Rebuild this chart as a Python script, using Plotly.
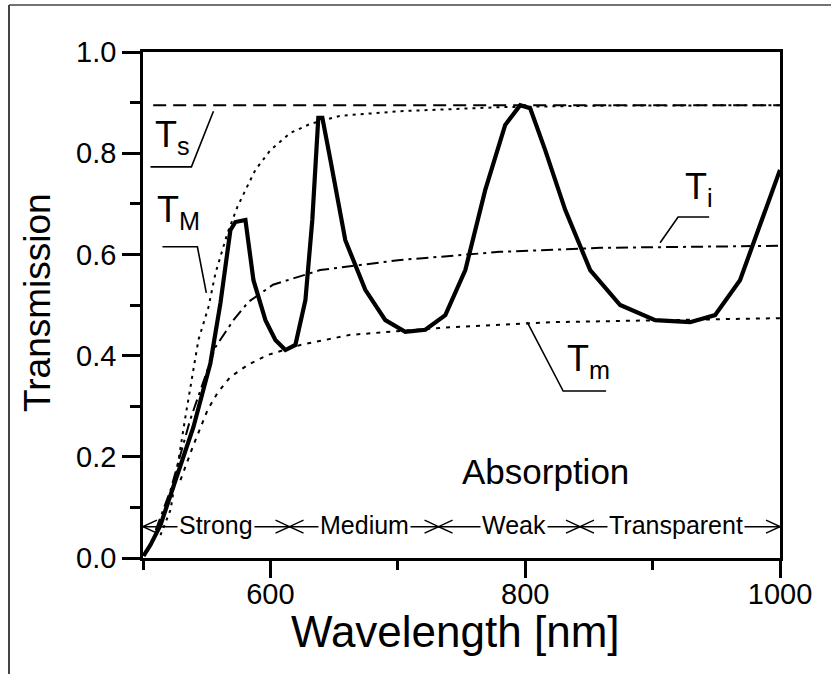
import plotly.graph_objects as go

# ---------------- data ----------------
wl_T = [500.4, 505.9, 513.7, 525.5, 539.6, 552.9, 560.8, 568.6, 572.5, 580.4, 586.7, 596.1,
        603.9, 611.8, 619.6, 627.5, 632.9, 637.6, 640.8, 647.1, 658.8, 674.5, 690.2, 705.9,
        721.6, 737.3, 753.0, 768.6, 784.3, 796.1, 803.9, 815.7, 831.4, 851.0, 874.5, 902.0,
        929.4, 949.0, 968.6, 984.3, 1000.0]
T = [0.004, 0.026, 0.065, 0.154, 0.259, 0.385, 0.504, 0.648, 0.664, 0.668, 0.549, 0.470,
     0.431, 0.411, 0.421, 0.510, 0.668, 0.870, 0.870, 0.787, 0.628, 0.530, 0.470, 0.447,
     0.451, 0.480, 0.569, 0.727, 0.856, 0.895, 0.889, 0.806, 0.688, 0.569, 0.500, 0.470,
     0.466, 0.480, 0.549, 0.658, 0.767]

wl_TM = [513.7, 521.6, 533.3, 538.8, 543.5, 551.4, 556.9, 566.3, 574.1, 580.4, 588.2, 600.0,
         615.7, 631.4, 654.9, 702.0, 780.4, 858.8, 1000.0]
TM = [0.045, 0.095, 0.279, 0.358, 0.431, 0.496, 0.563, 0.642, 0.694, 0.727, 0.767, 0.806,
      0.840, 0.858, 0.874, 0.883, 0.891, 0.894, 0.895]

wl_Tm = [529.4, 539.6, 550.6, 558.4, 568.6, 582.0, 597.6, 623.5, 662.7, 741.0, 819.6, 898.0, 1000.0]
Tm = [0.154, 0.223, 0.292, 0.326, 0.358, 0.381, 0.401, 0.421, 0.441, 0.456, 0.466, 0.470, 0.474]

wl_Ti = [510.0, 521.6, 537.0, 556.9, 571.0, 582.7, 602.0, 639.0, 702.0, 780.0, 859.0, 1000.0]
Ti = [0.055, 0.134, 0.273, 0.417, 0.470, 0.506, 0.540, 0.569, 0.589, 0.605, 0.613, 0.617]

wl_Ts = [508.0, 1000.0]
Ts = [0.895, 0.895]

regions = ["Strong", "Medium", "Weak", "Transparent"]
region_edges = [500, 615, 732, 843, 1000]
region_centers = [557, 674, 791, 918]

x_ticks = [600, 800, 1000]
y_ticks = [0.0, 0.2, 0.4, 0.6, 0.8, 1.0]

# ---------------- figure ----------------
FONT = "Liberation Sans, Arial, sans-serif"
fig = go.Figure()

fig.add_trace(go.Scatter(x=wl_Ts, y=Ts, mode="lines",
                         line=dict(color="black", width=2, dash="13px,7px")))
fig.add_trace(go.Scatter(x=wl_TM, y=TM, mode="lines",
                         line=dict(color="black", width=2, dash="3px,5px")))
fig.add_trace(go.Scatter(x=wl_Tm, y=Tm, mode="lines",
                         line=dict(color="black", width=2, dash="4px,6px")))
fig.add_trace(go.Scatter(x=wl_Ti, y=Ti, mode="lines",
                         line=dict(color="black", width=2, dash="12px,5px,3px,5px")))
fig.add_trace(go.Scatter(x=wl_T, y=T, mode="lines",
                         line=dict(color="black", width=4.2)))

shapes = []
annotations = []

# absorption-range arrows (open chevron heads), in data coordinates
ARROW_Y = 0.062
HEAD_DX = 11.0     # nm  (~14 px)
HEAD_DY = 0.0128   # transmission (~6.5 px)
arrow_line = dict(color="black", width=1.5)
shapes.append(dict(type="line", xref="x", yref="y", x0=region_edges[0], x1=region_edges[-1],
                   y0=ARROW_Y, y1=ARROW_Y, line=arrow_line))
for i in range(len(regions)):
    a, b = region_edges[i], region_edges[i + 1]
    for tip, sgn in [(a, 1), (b, -1)]:
        d = (f"M {tip + sgn * HEAD_DX},{ARROW_Y + HEAD_DY} L {tip},{ARROW_Y} "
             f"L {tip + sgn * HEAD_DX},{ARROW_Y - HEAD_DY}")
        shapes.append(dict(type="path", path=d, xref="x", yref="y", line=arrow_line))
for i, name in enumerate(regions):
    annotations.append(dict(
        x=region_centers[i], y=ARROW_Y, xref="x", yref="y", text=name,
        showarrow=False, bgcolor="white", borderpad=1,
        font=dict(family=FONT, size=25, color="black"),
        xanchor="center", yanchor="middle", yshift=2))

annotations.append(dict(x=815.7, y=0.170, xref="x", yref="y", text="Absorption",
                        showarrow=False, font=dict(family=FONT, size=35, color="black")))

label_font = dict(family=FONT, size=36, color="black")
for txt, lx, ly in [("T<sub>s</sub>", 508.2, 0.843), ("T<sub>M</sub>", 509.8, 0.695),
                    ("T<sub>i</sub>", 923.9, 0.742), ("T<sub>m</sub>", 831.4, 0.402)]:
    annotations.append(dict(x=lx, y=ly, xref="x", yref="y", text=txt, showarrow=False,
                            font=label_font, xanchor="left", yanchor="middle", yshift=-6))

# axis titles
annotations.append(dict(x=(37 - 143) / 637, y=(558 - 303) / 506, xref="paper", yref="paper",
                        text="Transmission", textangle=-90, showarrow=False,
                        xanchor="center", yanchor="middle",
                        font=dict(family=FONT, size=37, color="black")))
annotations.append(dict(x=(455 - 143) / 637, y=(558 - 631) / 506, xref="paper", yref="paper",
                        text="Wavelength [nm]", showarrow=False,
                        xanchor="center", yanchor="middle",
                        font=dict(family=FONT, size=44, color="black")))

for path in [[(505.9, 0.773), (538.0, 0.773), (555.3, 0.883)],
             [(515.3, 0.615), (542.7, 0.615), (549.7, 0.524)],
             [(944.4, 0.674), (920.0, 0.674), (905.9, 0.623)],
             [(801.6, 0.466), (829.8, 0.330), (863.5, 0.330)]]:
    d = "M " + " L ".join(f"{px},{py}" for px, py in path)
    shapes.append(dict(type="path", path=d, xref="x", yref="y",
                       line=dict(color="black", width=1.6)))
# outer frame lines (picture border)
shapes.append(dict(type="line", xref="paper", yref="paper",
                   x0=(9 - 143) / 637, x1=(831 - 143) / 637, y0=(558 - 5) / 506, y1=(558 - 5) / 506,
                   line=dict(color="#444444", width=1.5)))
shapes.append(dict(type="line", xref="paper", yref="paper",
                   x0=(9 - 143) / 637, x1=(9 - 143) / 637, y0=(558 - 5) / 506, y1=(558 - 680) / 506,
                   line=dict(color="#444444", width=2)))

fig.update_layout(
    width=831, height=674, autosize=False,
    margin=dict(l=143, r=51, t=52, b=116, pad=0),
    paper_bgcolor="white", plot_bgcolor="white",
    showlegend=False,
    annotations=annotations, shapes=shapes,
    font=dict(family=FONT, color="black"),
)
fig.update_xaxes(range=[500, 1000], tickvals=x_ticks, ticktext=[str(v) for v in x_ticks],
                 showgrid=False, zeroline=False, showline=True, mirror=True,
                 linecolor="black", linewidth=2.5, ticks="outside", ticklen=17, tickwidth=2.5,
                 tickcolor="black", tickfont=dict(family=FONT, size=29, color="black"),
                 ticklabelstandoff=-9,
                 minor=dict(tickvals=[500, 700, 900], ticks="outside", ticklen=9,
                            tickwidth=2.5, tickcolor="black"))
fig.update_yaxes(range=[0, 1.0], tickvals=y_ticks, ticktext=[f"{v:.1f}" for v in y_ticks],
                 showgrid=False, zeroline=False, showline=True, mirror=True,
                 linecolor="black", linewidth=2.5, ticks="outside", ticklen=18, tickwidth=2.5,
                 tickcolor="black", tickfont=dict(family=FONT, size=29, color="black"),
                 minor=dict(tickvals=[0.1, 0.3, 0.5, 0.7, 0.9], ticks="outside", ticklen=10,
                            tickwidth=2.5, tickcolor="black"))

fig.write_html("out.html")
